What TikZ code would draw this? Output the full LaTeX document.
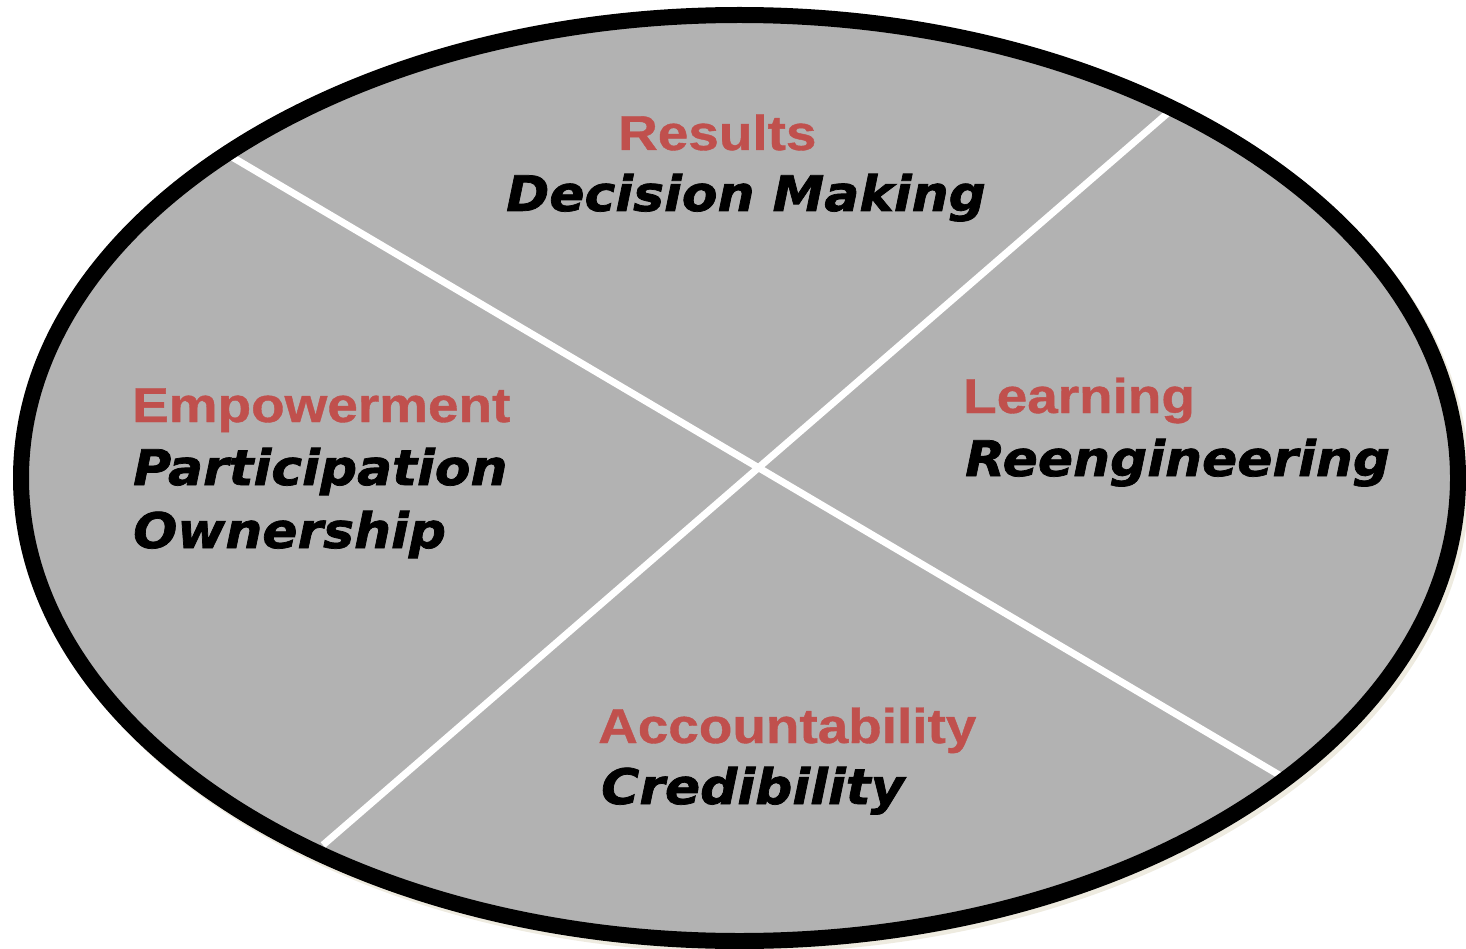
\documentclass[tikz,border=0pt]{standalone}
\usepackage{fontspec}
\newfontfamily\headfont[FakeStretch=1.12,FakeBold=0.8]{Liberation Sans Bold}
\newfontfamily\blackfont[FakeStretch=1.06,FakeBold=1.5]{DejaVu Sans Bold Oblique}
\definecolor{headred}{HTML}{C0504D}
\definecolor{discgray}{HTML}{B2B2B2}
\definecolor{shadowtan}{HTML}{EEEBE0}
\tikzset{
  head/.style={anchor=base west,inner sep=0pt,text=headred,font=\headfont\fontsize{49}{49}\selectfont},
  sub/.style={anchor=base west,inner sep=0pt,font=\blackfont\fontsize{49}{49}\selectfont},
  divider/.style={white,line width=7pt}
}
\begin{document}
\begin{tikzpicture}[x=1pt,y=-1pt]

\useasboundingbox (0,0) rectangle (1466,949) ;
\draw [shadowtan,line width=16pt] (743,482) ellipse [x radius=718.5,y radius=463] ;
\fill [discgray] (739.5,478) ellipse [x radius=718.5,y radius=463] ;

\coordinate (nw) at (232,157) ;
\coordinate (se) at (1286,779) ;
\coordinate (ne) at (1169,112) ;
\coordinate (sw) at (323,845) ;
\draw [divider] (nw) -- (se) ;
\draw [divider] (ne) -- (sw) ;

\draw [line width=16pt] (739.5,478) ellipse [x radius=718.5,y radius=463] ;

\node [head] (results) at (618,150) {Results} ;
\node [sub] (decision) at (506,211) {Decision Making} ;
\node [head] (empower) at (132,422) {Empowerment} ;
\node [sub] (particip) at (133,485) {Participation} ;
\node [sub] (owner) at (133,548) {Ownership} ;
\node [head] (learning) at (963,413) {Learning} ;
\node [sub] (reeng) at (965,476) {Reengineering} ;
\node [head] (account) at (598,743) {Accountability} ;
\node [sub] (cred) at (601,804) {Credibility} ;

\end{tikzpicture}
\end{document}
